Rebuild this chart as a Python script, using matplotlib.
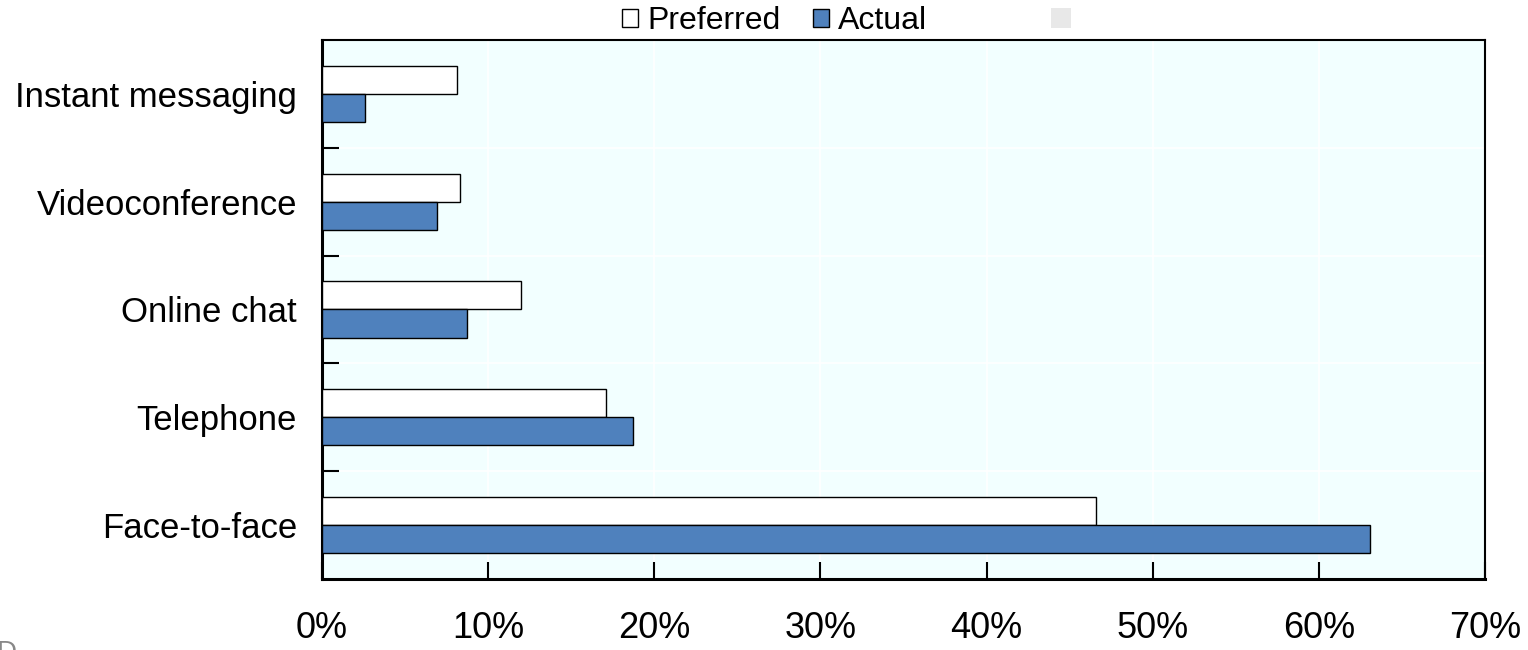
import matplotlib.pyplot as plt
from matplotlib.patches import Patch, Rectangle
import numpy as np

plt.rcParams['font.family'] = ['Liberation Sans', 'DejaVu Sans']

categories = ["Face-to-face", "Telephone", "Online chat", "Videoconference", "Instant messaging"]
preferred = [46.6, 17.1, 12.0, 8.3, 8.1]
actual = [63.1, 18.7, 8.7, 6.9, 2.6]
xticks = [0, 10, 20, 30, 40, 50, 60, 70]

fig = plt.figure(figsize=(15.28, 6.5), dpi=100)
ax = fig.add_axes([0.2107, 0.1092, 0.7612, 0.8293])
ax.set_facecolor('#F2FFFF')

y = np.arange(len(categories))
h = 0.26
ax.barh(y + h / 2, preferred, height=h, color='white', edgecolor='black', linewidth=1, zorder=3, label='Preferred')
ax.barh(y - h / 2, actual, height=h, color='#4F81BD', edgecolor='black', linewidth=1, zorder=3, label='Actual')

ax.set_xlim(0, 70)
ax.set_ylim(-0.5, len(categories) - 0.5)

ax.set_xticks(xticks)
ax.set_xticklabels([f"{v}%" for v in xticks], fontsize=26)
ax.tick_params(axis='x', direction='in', length=12, width=1.5, pad=23)

ax.set_yticks(y)
ax.set_yticklabels(categories, fontsize=25)
ax.tick_params(axis='y', which='major', length=0, pad=18)
ax.set_yticks(np.arange(0.5, len(categories) - 0.5, 1), minor=True)
ax.tick_params(axis='y', which='minor', direction='in', length=12, width=1.5)

# faint white gridlines
ax.grid(axis='x', color='white', linewidth=1.2, zorder=1)
ax.grid(axis='y', which='minor', color='white', linewidth=1.2, zorder=1)
ax.set_axisbelow(True)

for side in ['left', 'bottom']:
    ax.spines[side].set_linewidth(2.2)
for side in ['top', 'right']:
    ax.spines[side].set_linewidth(1.5)

handles = [
    Patch(facecolor='white', edgecolor='black', linewidth=1, label='Preferred'),
    Patch(facecolor='#4F81BD', edgecolor='black', linewidth=1, label='Actual'),
]
fig.legend(handles=handles, loc='upper center', bbox_to_anchor=(0.507, 1.035), ncol=2,
           frameon=False, fontsize=23, handlelength=0.5, handleheight=0.5,
           handletextpad=0.3, columnspacing=1.0)

# light grey box at the top right of the legend
fig.patches.append(Rectangle((1051 / 1528, 1 - 28 / 650), 20 / 1528, 20 / 650,
                             transform=fig.transFigure, facecolor='#E8E8E8', edgecolor='none'))

fig.text(-0.002, -0.025, "D", fontsize=20, color='#888888', ha='left', va='bottom')

fig.savefig('out.png', dpi=100)
